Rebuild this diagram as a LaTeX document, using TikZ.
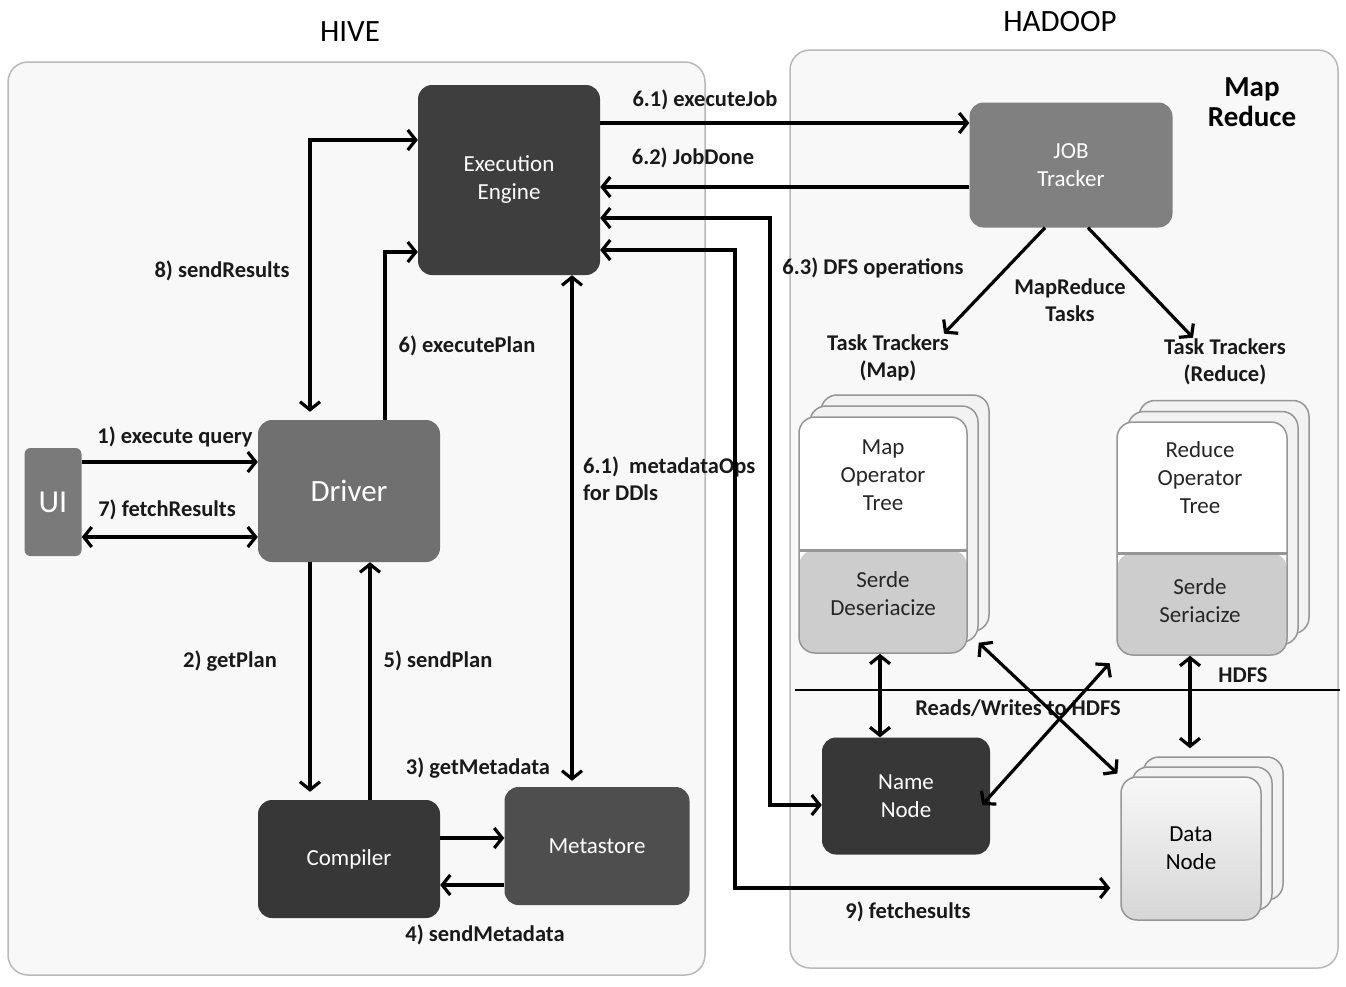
\documentclass[tikz,border=0pt]{standalone}
\usepackage{fontspec}
\setmainfont{Carlito}
\usetikzlibrary{arrows.meta,calc}
\newcommand\mylbl{\bfseries\fontsize{22.5}{27}\selectfont}
\newcommand\mybox{\fontsize{23}{28}\selectfont}
\definecolor{eecol}{RGB}{62,62,62}
\definecolor{drvcol}{RGB}{112,112,112}
\definecolor{uicol}{RGB}{122,122,122}
\definecolor{compcol}{RGB}{55,55,55}
\definecolor{metacol}{RGB}{78,78,78}
\definecolor{jtcol}{RGB}{128,128,128}
\definecolor{nncol}{RGB}{55,55,55}
\definecolor{boxline}{RGB}{150,150,150}
\definecolor{contline}{RGB}{185,185,185}
\definecolor{contfill}{RGB}{248,248,248}
\definecolor{lowfill}{RGB}{205,205,205}
\begin{document}
\begin{tikzpicture}[x=1pt,y=-1pt,
  container/.style={draw=contline, line width=1.5pt, rounded corners=20pt, fill=contfill, inner sep=0pt},
  blk/.style={rounded corners=14pt, inner sep=0pt, text=white, font=\mybox, align=center},
  lab/.style={font=\mylbl, text=black!90, inner sep=1pt, align=center},
  arr/.style={line width=3.2pt, -{Straight Barb[length=8pt,width=20pt]}},
  darr/.style={line width=3.2pt, {Straight Barb[length=8pt,width=20pt]}-{Straight Barb[length=8pt,width=20pt]}},
  layer/.style={draw=boxline, line width=1.5pt, rounded corners=16pt, fill=gray!10, inner sep=0pt},
  front/.style={draw=boxline, line width=1.5pt, rounded corners=16pt, fill=white, inner sep=0pt,
    path picture={\fill[lowfill] ([yshift=#1]path picture bounding box.south west) rectangle (path picture bounding box.south east);
      \draw[line width=3pt] ([yshift=#1]path picture bounding box.south west) -- ([yshift=#1]path picture bounding box.south east);}},
  inner/.style={font=\fontsize{23}{28}\selectfont, text=black!85, align=center, inner sep=0pt}
]
\useasboundingbox (0,0) rectangle (1346,986);
\fill[white] (0,0) rectangle (1346,986);

% containers
\node[container, minimum width=697pt, minimum height=913pt] (hive) at (356.5,518.5) {};
\node[container, minimum width=548pt, minimum height=918pt] (hadoop) at (1064,509) {};
\node[font=\fontsize{31}{36}\selectfont] (hivet) at (350,32) {HIVE};
\node[font=\fontsize{31}{36}\selectfont] (hadoopt) at (1060,22) {HADOOP};
\node[font=\bfseries\fontsize{29}{34}\selectfont, align=center] (mrt) at (1252,102) {Map\\[-4pt]Reduce};

% HIVE blocks
\node[blk, fill=eecol, minimum width=182pt, minimum height=190pt] (ee) at (509,180) {Execution\\Engine};
\node[blk, fill=drvcol, minimum width=182pt, minimum height=142pt, font=\fontsize{31}{36}\selectfont] (driver) at (349,491) {Driver};
\node[blk, fill=uicol, rounded corners=6pt, minimum width=57pt, minimum height=108pt, font=\fontsize{32}{36}\selectfont] (ui) at (53,502) {UI};
\node[blk, fill=compcol, minimum width=182pt, minimum height=118pt] (compiler) at (349,859) {Compiler};
\node[blk, fill=metacol, minimum width=185pt, minimum height=118pt] (metastore) at (597,846) {Metastore};

% HADOOP blocks
\node[blk, fill=jtcol, minimum width=203pt, minimum height=125pt] (jt) at (1071,165) {JOB\\Tracker};
\node[blk, fill=nncol, minimum width=168pt, minimum height=117pt] (nn) at (906,796) {Name\\Node};

% map stack
\node[layer, minimum width=168pt, minimum height=236pt] (mapb2) at (905,513) {};
\node[layer, minimum width=168pt, minimum height=236pt] (mapb1) at (894,524) {};
\node[front=103pt, minimum width=168pt, minimum height=236pt] (mapf) at (883,535) {};
\node[inner] (maptxt) at (883,475) {Map\\Operator\\Tree};
\node[inner] (mapser) at (883,594) {Serde\\Deseriacize};

% reduce stack
\node[layer, minimum width=170pt, minimum height=233pt] (redb2) at (1224,517) {};
\node[layer, minimum width=170pt, minimum height=233pt] (redb1) at (1213,528) {};
\node[front=102pt, minimum width=170pt, minimum height=233pt] (redf) at (1202,538.5) {};
\node[inner] (redtxt) at (1200,478) {Reduce\\Operator\\Tree};
\node[inner] (redser) at (1200,601) {Serde\\Seriacize};

% data node stack
\node[layer, minimum width=140pt, minimum height=143pt] (dnb2) at (1213,828.5) {};
\node[layer, minimum width=140pt, minimum height=143pt] (dnb1) at (1202,838.5) {};
\node[layer, top color=gray!6, bottom color=gray!32, minimum width=140pt, minimum height=143pt, font=\fontsize{23}{28}\selectfont, align=center] (dnf) at (1191,848.5) {Data\\Node};

% rails
\coordinate (r123) at (0,123);
\coordinate (r187) at (0,187);
\coordinate (dfsA) at (770,218);
\coordinate (dfsB) at (770,805);
\coordinate (fA) at (735,250);
\coordinate (fB) at (735,888);
\coordinate (sA) at (310,140);
\coordinate (pA) at (385,252);
\coordinate (q1) at (0,462);
\coordinate (q7) at (0,537);
\coordinate (g2) at (310,0);
\coordinate (g5) at (370,0);
\coordinate (m3) at (0,838);
\coordinate (m4) at (0,885);
\coordinate (mo) at (572,0);
\coordinate (j1) at (1045,0);
\coordinate (j2) at (1088,0);
\coordinate (h1) at (880,0);
\coordinate (h2) at (1190,0);
\coordinate (hdl) at (795,690);
\coordinate (hdr) at (1340,690);

% labels
\node[lab] (l8) at (222,271) {8) sendResults};
\node[lab] (l6) at (467,346) {6) executePlan};
\node[lab] (l1) at (175,437) {1) execute query};
\node[lab] (l7) at (167,510) {7) fetchResults};
\node[lab] (l2) at (230,661) {2) getPlan};
\node[lab] (l5) at (438,661) {5) sendPlan};
\node[lab] (l3) at (478,768) {3) getMetadata};
\node[lab] (l4) at (485,935) {4) sendMetadata};
\node[lab, align=left, anchor=north west] (l61) at (582,456) {6.1)\ \ metadataOps\\for DDls};
\node[lab] (lej) at (705,100) {6.1) executeJob};
\node[lab] (ljd) at (693,158) {6.2) JobDone};
\node[lab] (ldfs) at (873,268) {6.3) DFS operations};
\node[lab] (lmr) at (1070,300) {MapReduce\\Tasks};
\node[lab] (ttmap) at (888,358) {Task Trackers\\(Map)};
\node[lab] (ttred) at (1225,362) {Task Trackers\\(Reduce)};
\node[lab] (lhdfs) at (1243,675) {HDFS};
\node[lab] (lrw) at (1018,708) {Reads/Writes to HDFS};
\node[lab] (l9) at (908,912) {9) fetchesults};

% connectors
\draw[arr] (ee.east |- r123) -- (jt.west |- r123);
\draw[arr] (jt.west |- r187) -- (ee.east |- r187);
\draw[darr] (ee.east |- dfsA) -- (dfsA) -- (dfsB) -- (nn.west |- dfsB);
\draw[darr, shorten >=10pt] (ee.east |- fA) -- (fA) -- (fB) -- (dnf.west |- fB);
\draw[darr, shorten >=8pt] (ee.west |- sA) -- (sA) -- (driver.north -| sA);
\draw[arr] (driver.north -| pA) -- (pA) -- (ee.west |- pA);
\draw[arr] (ui.east |- q1) -- (driver.west |- q1);
\draw[darr] (ui.east |- q7) -- (driver.west |- q7);
\draw[arr, shorten >=8pt] (driver.south -| g2) -- (compiler.north -| g2);
\draw[arr] (compiler.north -| g5) -- (driver.south -| g5);
\draw[arr] (compiler.east |- m3) -- (metastore.west |- m3);
\draw[arr] (metastore.west |- m4) -- (compiler.east |- m4);
\draw[darr, shorten >=6pt] (ee.south -| mo) -- (metastore.north -| mo);
\draw[arr] (jt.south -| j1) -- ([xshift=-6pt]ttmap.north east);
\draw[arr] (jt.south -| j2) -- ([xshift=30pt]ttred.north west);
\draw[darr] (mapf.south -| h1) -- (nn.north -| h1);
\draw[darr, shorten >=8pt] (redf.south -| h2) -- (dnb2.north -| h2);
\draw[darr, shorten >=4pt] (mapb1.south east) -- (dnf.north west);
\draw[darr, shorten <=10pt, shorten >=-12pt] (redf.south west) -- (nn.east);
\draw[line width=2.8pt] (hdl) -- (hdr);
\end{tikzpicture}
\end{document}
